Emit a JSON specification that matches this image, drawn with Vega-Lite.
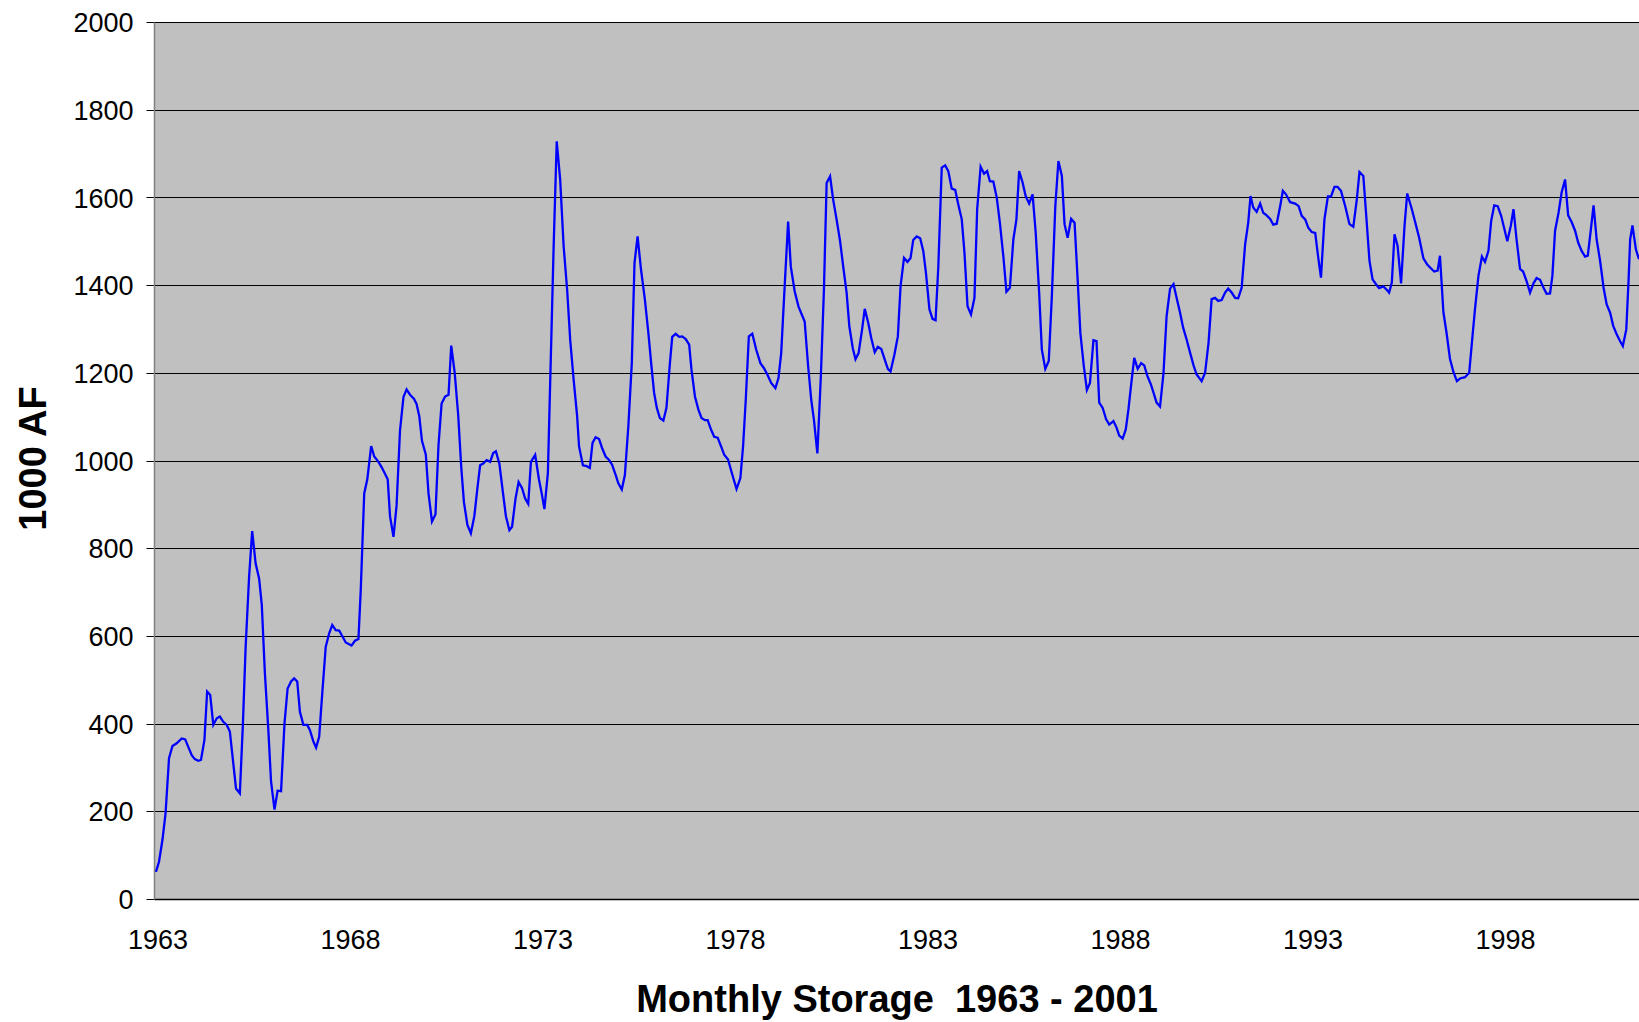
{
  "$schema": "https://vega.github.io/schema/vega-lite/v6.json",
  "width": 1485,
  "height": 877,
  "autosize": {"type": "none"},
  "padding": {"left": 154, "top": 22, "right": 0, "bottom": 123},
  "background": "white",
  "config": {
    "view": {"fill": "#C0C0C0", "stroke": "#808080", "strokeWidth": 1},
    "font": "Liberation Sans"
  },
  "data": {"values": [
    {"year":1962.96,"storage":62},{"year":1963.04,"storage":85},{"year":1963.13,"storage":135},{"year":1963.21,"storage":195},
    {"year":1963.30,"storage":321},{"year":1963.39,"storage":349},{"year":1963.50,"storage":355},{"year":1963.63,"storage":366},
    {"year":1963.72,"storage":364},{"year":1963.80,"storage":347},{"year":1963.89,"storage":328},{"year":1963.97,"storage":319},
    {"year":1964.06,"storage":315},{"year":1964.13,"storage":317},{"year":1964.22,"storage":363},{"year":1964.29,"storage":473},
    {"year":1964.37,"storage":465},{"year":1964.45,"storage":397},{"year":1964.54,"storage":412},{"year":1964.62,"storage":416},
    {"year":1964.71,"storage":404},{"year":1964.80,"storage":397},{"year":1964.88,"storage":382},{"year":1964.97,"storage":309},
    {"year":1965.04,"storage":252},{"year":1965.14,"storage":241},{"year":1965.22,"storage":401},{"year":1965.29,"storage":575},
    {"year":1965.38,"storage":735},{"year":1965.46,"storage":839},{"year":1965.55,"storage":765},{"year":1965.64,"storage":731},
    {"year":1965.71,"storage":670},{"year":1965.79,"storage":515},{"year":1965.88,"storage":385},{"year":1965.95,"storage":268},
    {"year":1966.04,"storage":204},{"year":1966.12,"storage":247},{"year":1966.21,"storage":246},{"year":1966.30,"storage":401},
    {"year":1966.38,"storage":480},{"year":1966.47,"storage":496},{"year":1966.55,"storage":503},{"year":1966.63,"storage":496},
    {"year":1966.70,"storage":427},{"year":1966.79,"storage":397},{"year":1966.89,"storage":397},{"year":1966.96,"storage":385},
    {"year":1967.05,"storage":359},{"year":1967.12,"storage":345},{"year":1967.20,"storage":370},{"year":1967.28,"storage":469},
    {"year":1967.37,"storage":575},{"year":1967.46,"storage":606},{"year":1967.54,"storage":625},{"year":1967.63,"storage":613},
    {"year":1967.72,"storage":612},{"year":1967.81,"storage":598},{"year":1967.89,"storage":585},
    {"year":1968.04,"storage":578},{"year":1968.13,"storage":589},{"year":1968.22,"storage":593},{"year":1968.28,"storage":705},
    {"year":1968.37,"storage":925},{"year":1968.45,"storage":957},{"year":1968.55,"storage":1033},{"year":1968.63,"storage":1009},
    {"year":1968.74,"storage":997},{"year":1968.82,"storage":985},{"year":1968.89,"storage":973},{"year":1968.98,"storage":957},
    {"year":1969.04,"storage":873},{"year":1969.13,"storage":826},{"year":1969.21,"storage":897},{"year":1969.30,"storage":1069},
    {"year":1969.39,"storage":1145},{"year":1969.47,"storage":1162},{"year":1969.56,"storage":1150},{"year":1969.66,"storage":1141},
    {"year":1969.73,"storage":1129},{"year":1969.80,"storage":1101},{"year":1969.87,"storage":1045},{"year":1969.97,"storage":1013},
    {"year":1970.04,"storage":925},{"year":1970.13,"storage":861},{"year":1970.22,"storage":877},{"year":1970.30,"storage":1036},
    {"year":1970.38,"storage":1130},{"year":1970.47,"storage":1146},{"year":1970.56,"storage":1150},{"year":1970.63,"storage":1262},
    {"year":1970.72,"storage":1200},{"year":1970.81,"storage":1105},{"year":1970.89,"storage":985},{"year":1970.96,"storage":905},
    {"year":1971.05,"storage":853},{"year":1971.14,"storage":834},{"year":1971.23,"storage":873},{"year":1971.31,"storage":937},
    {"year":1971.38,"storage":989},{"year":1971.46,"storage":993},{"year":1971.55,"storage":1001},{"year":1971.64,"storage":997},
    {"year":1971.72,"storage":1017},{"year":1971.79,"storage":1021},{"year":1971.88,"storage":993},{"year":1971.97,"storage":929},
    {"year":1972.05,"storage":873},{"year":1972.14,"storage":841},{"year":1972.21,"storage":849},{"year":1972.30,"storage":913},
    {"year":1972.38,"storage":951},{"year":1972.47,"storage":937},{"year":1972.55,"storage":913},{"year":1972.63,"storage":901},
    {"year":1972.70,"storage":997},
    {"year":1972.81,"storage":1013},{"year":1972.91,"storage":956},{"year":1972.98,"storage":925},{"year":1973.05,"storage":889},
    {"year":1973.14,"storage":971},{"year":1973.20,"storage":1177},{"year":1973.29,"storage":1488},{"year":1973.37,"storage":1728},
    {"year":1973.46,"storage":1640},{"year":1973.55,"storage":1488},{"year":1973.64,"storage":1390},{"year":1973.72,"storage":1275},
    {"year":1973.81,"storage":1184},{"year":1973.90,"storage":1101},{"year":1973.95,"storage":1032},{"year":1974.05,"storage":989},
    {"year":1974.15,"storage":987},{"year":1974.23,"storage":983},{"year":1974.30,"storage":1040},{"year":1974.38,"storage":1053},
    {"year":1974.47,"storage":1049},{"year":1974.55,"storage":1028},{"year":1974.64,"storage":1009},{"year":1974.73,"storage":1001},
    {"year":1974.81,"storage":990},{"year":1974.90,"storage":967},{"year":1974.97,"storage":948},{"year":1975.06,"storage":934},
    {"year":1975.14,"storage":967},{"year":1975.23,"storage":1078},{"year":1975.32,"storage":1222},{"year":1975.39,"storage":1450},
    {"year":1975.47,"storage":1511},{"year":1975.56,"storage":1435},{"year":1975.66,"storage":1367},{"year":1975.75,"storage":1291},
    {"year":1975.83,"storage":1215},{"year":1975.90,"storage":1154},{"year":1975.97,"storage":1120},{"year":1976.05,"storage":1097},
    {"year":1976.14,"storage":1091},{"year":1976.22,"storage":1120},{"year":1976.31,"storage":1222},{"year":1976.37,"storage":1282},
    {"year":1976.46,"storage":1289},{"year":1976.55,"storage":1282},{"year":1976.63,"storage":1283},{"year":1976.72,"storage":1277},
    {"year":1976.81,"storage":1264},{"year":1976.87,"storage":1207},{"year":1976.96,"storage":1146},{"year":1977.05,"storage":1116},
    {"year":1977.13,"storage":1097},{"year":1977.22,"storage":1092},{"year":1977.29,"storage":1092},{"year":1977.38,"storage":1070},
    {"year":1977.46,"storage":1054},{"year":1977.55,"storage":1052},{"year":1977.64,"storage":1032},{"year":1977.72,"storage":1013},
    {"year":1977.82,"storage":1002},{"year":1977.92,"storage":971},{"year":1978.04,"storage":935},{"year":1978.14,"storage":960},
    {"year":1978.21,"storage":1032},{"year":1978.28,"storage":1139},{"year":1978.36,"storage":1283},{"year":1978.45,"storage":1289},
    {"year":1978.55,"storage":1253},{"year":1978.66,"storage":1222},{"year":1978.75,"storage":1211},{"year":1978.84,"storage":1196},
    {"year":1978.94,"storage":1177},{"year":1979.05,"storage":1165},{"year":1979.13,"storage":1188},{"year":1979.20,"storage":1245},
    {"year":1979.29,"storage":1397},{"year":1979.38,"storage":1545},{"year":1979.45,"storage":1442},{"year":1979.55,"storage":1386},
    {"year":1979.65,"storage":1351},{"year":1979.81,"storage":1317},{"year":1979.90,"storage":1215},{"year":1979.98,"storage":1139},
    {"year":1980.05,"storage":1093},{"year":1980.14,"storage":1016},{"year":1980.23,"storage":1192},{"year":1980.31,"storage":1389},
    {"year":1980.38,"storage":1633},{"year":1980.47,"storage":1648},{"year":1980.55,"storage":1595},{"year":1980.64,"storage":1549},
    {"year":1980.73,"storage":1500},{"year":1980.81,"storage":1443},{"year":1980.90,"storage":1382},{"year":1980.97,"storage":1306},
    {"year":1981.06,"storage":1256},{"year":1981.13,"storage":1231},{"year":1981.21,"storage":1245},{"year":1981.30,"storage":1298},
    {"year":1981.37,"storage":1346},{"year":1981.46,"storage":1314},{"year":1981.54,"storage":1279},{"year":1981.63,"storage":1247},
    {"year":1981.71,"storage":1259},{"year":1981.80,"storage":1254},{"year":1981.89,"storage":1230},{"year":1981.97,"storage":1209},
    {"year":1982.04,"storage":1203},{"year":1982.14,"storage":1241},{"year":1982.23,"storage":1283},{"year":1982.30,"storage":1397},
    {"year":1982.39,"storage":1462},{"year":1982.48,"storage":1453},{"year":1982.56,"storage":1462},{"year":1982.63,"storage":1503},
    {"year":1982.72,"storage":1511},{"year":1982.81,"storage":1507},
    {"year":1982.89,"storage":1478},{"year":1982.96,"storage":1428},{"year":1983.05,"storage":1345},{"year":1983.13,"storage":1323},
    {"year":1983.21,"storage":1320},{"year":1983.28,"storage":1440},{"year":1983.37,"storage":1668},{"year":1983.46,"storage":1673},
    {"year":1983.54,"storage":1660},{"year":1983.63,"storage":1620},{"year":1983.72,"storage":1617},{"year":1983.80,"storage":1584},
    {"year":1983.89,"storage":1550},{"year":1983.96,"storage":1474},{"year":1984.04,"storage":1352},{"year":1984.13,"storage":1333},
    {"year":1984.22,"storage":1371},{"year":1984.29,"storage":1573},{"year":1984.38,"storage":1670},{"year":1984.47,"storage":1654},
    {"year":1984.55,"storage":1660},{"year":1984.62,"storage":1637},{"year":1984.71,"storage":1636},{"year":1984.80,"storage":1599},
    {"year":1984.88,"storage":1542},{"year":1984.97,"storage":1466},{"year":1985.05,"storage":1385},{"year":1985.14,"storage":1394},
    {"year":1985.23,"storage":1504},{"year":1985.31,"storage":1550},{"year":1985.38,"storage":1660},{"year":1985.47,"storage":1634},
    {"year":1985.55,"storage":1603},{"year":1985.64,"storage":1586},{"year":1985.73,"storage":1607},{"year":1985.81,"storage":1520},
    {"year":1985.90,"storage":1383},{"year":1985.97,"storage":1253},{"year":1986.06,"storage":1209},{"year":1986.15,"storage":1227},
    {"year":1986.23,"storage":1375},{"year":1986.32,"storage":1580},{"year":1986.40,"storage":1683},{"year":1986.49,"storage":1649},
    {"year":1986.56,"storage":1539},{"year":1986.64,"storage":1508},{"year":1986.73,"storage":1551},{"year":1986.82,"storage":1542},
    {"year":1986.90,"storage":1413},{"year":1986.97,"storage":1291},{"year":1987.06,"storage":1215},{"year":1987.14,"storage":1161},
    {"year":1987.22,"storage":1177},{"year":1987.31,"storage":1274},{"year":1987.39,"storage":1272},{"year":1987.46,"storage":1132},
    {"year":1987.55,"storage":1120},{"year":1987.64,"storage":1094},{"year":1987.72,"storage":1082},
    {"year":1987.83,"storage":1090},{"year":1987.91,"storage":1075},{"year":1987.98,"storage":1057},{"year":1988.07,"storage":1050},
    {"year":1988.15,"storage":1071},{"year":1988.22,"storage":1117},{"year":1988.30,"storage":1181},{"year":1988.37,"storage":1234},
    {"year":1988.46,"storage":1209},{"year":1988.55,"storage":1222},{"year":1988.63,"storage":1217},{"year":1988.71,"storage":1193},
    {"year":1988.80,"storage":1174},{"year":1988.87,"storage":1155},{"year":1988.95,"storage":1132},{"year":1989.04,"storage":1123},
    {"year":1989.13,"storage":1200},{"year":1989.21,"storage":1329},{"year":1989.30,"storage":1392},{"year":1989.39,"storage":1402},
    {"year":1989.47,"storage":1371},{"year":1989.56,"storage":1337},{"year":1989.64,"storage":1303},{"year":1989.73,"storage":1276},
    {"year":1989.82,"storage":1246},{"year":1989.91,"storage":1217},{"year":1989.99,"storage":1196},{"year":1990.12,"storage":1181},
    {"year":1990.21,"storage":1200},{"year":1990.30,"storage":1269},{"year":1990.38,"storage":1368},{"year":1990.47,"storage":1371},
    {"year":1990.55,"storage":1364},{"year":1990.64,"storage":1366},{"year":1990.73,"storage":1383},{"year":1990.81,"storage":1392},
    {"year":1990.90,"storage":1383},{"year":1990.99,"storage":1371},{"year":1991.07,"storage":1370},{"year":1991.16,"storage":1394},
    {"year":1991.25,"storage":1493},{"year":1991.33,"storage":1542},{"year":1991.39,"storage":1603},{"year":1991.46,"storage":1577},
    {"year":1991.55,"storage":1567},{"year":1991.64,"storage":1586},{"year":1991.72,"storage":1565},{"year":1991.81,"storage":1559},
    {"year":1991.90,"storage":1551},{"year":1991.98,"storage":1538},{"year":1992.07,"storage":1540},{"year":1992.16,"storage":1580},
    {"year":1992.23,"storage":1615},{"year":1992.31,"storage":1607},{"year":1992.42,"storage":1589},{"year":1992.55,"storage":1586},
    {"year":1992.64,"storage":1580},{"year":1992.72,"storage":1558},
    {"year":1992.81,"storage":1550},{"year":1992.89,"storage":1531},{"year":1992.98,"storage":1521},{"year":1993.07,"storage":1519},
    {"year":1993.15,"storage":1462},{"year":1993.22,"storage":1417},{"year":1993.31,"storage":1550},{"year":1993.40,"storage":1602},
    {"year":1993.48,"storage":1602},{"year":1993.57,"storage":1624},{"year":1993.65,"storage":1624},{"year":1993.74,"storage":1615},
    {"year":1993.85,"storage":1580},{"year":1993.96,"storage":1539},{"year":1994.06,"storage":1533},{"year":1994.15,"storage":1595},
    {"year":1994.22,"storage":1658},{"year":1994.32,"storage":1649},{"year":1994.39,"storage":1565},{"year":1994.48,"storage":1455},
    {"year":1994.56,"storage":1413},{"year":1994.65,"storage":1402},{"year":1994.73,"storage":1393},{"year":1994.84,"storage":1397},
    {"year":1994.92,"storage":1390},{"year":1994.99,"storage":1383},{"year":1995.06,"storage":1406},{"year":1995.13,"storage":1516},
    {"year":1995.21,"storage":1489},{"year":1995.30,"storage":1404},{"year":1995.39,"storage":1535},{"year":1995.46,"storage":1609},
    {"year":1995.58,"storage":1573},{"year":1995.68,"storage":1539},{"year":1995.77,"storage":1508},{"year":1995.88,"storage":1461},
    {"year":1995.98,"storage":1447},{"year":1996.08,"storage":1438},{"year":1996.16,"storage":1431},{"year":1996.25,"storage":1433},
    {"year":1996.31,"storage":1467},{"year":1996.40,"storage":1338},{"year":1996.48,"storage":1292},{"year":1996.57,"storage":1232},
    {"year":1996.66,"storage":1202},{"year":1996.75,"storage":1181},{"year":1996.83,"storage":1187},{"year":1996.96,"storage":1190},
    {"year":1997.07,"storage":1200},{"year":1997.14,"storage":1269},{"year":1997.22,"storage":1345},{"year":1997.31,"storage":1421},
    {"year":1997.40,"storage":1465},{"year":1997.48,"storage":1453},{"year":1997.57,"storage":1478},{"year":1997.64,"storage":1546},
    {"year":1997.72,"storage":1582},{"year":1997.81,"storage":1580},{"year":1997.90,"storage":1558},
    {"year":1998.06,"storage":1500},{"year":1998.15,"storage":1535},{"year":1998.22,"storage":1573},{"year":1998.30,"storage":1504},
    {"year":1998.39,"storage":1437},{"year":1998.47,"storage":1431},{"year":1998.56,"storage":1409},{"year":1998.65,"storage":1383},
    {"year":1998.74,"storage":1404},{"year":1998.82,"storage":1416},{"year":1998.91,"storage":1412},{"year":1999.00,"storage":1394},
    {"year":1999.08,"storage":1380},{"year":1999.17,"storage":1381},{"year":1999.23,"storage":1421},{"year":1999.30,"storage":1524},
    {"year":1999.39,"storage":1565},{"year":1999.47,"storage":1611},{"year":1999.56,"storage":1641},{"year":1999.64,"storage":1559},
    {"year":1999.73,"storage":1544},{"year":1999.82,"storage":1524},{"year":1999.90,"storage":1497},{"year":1999.99,"storage":1478},
    {"year":2000.08,"storage":1465},{"year":2000.15,"storage":1467},{"year":2000.23,"storage":1527},{"year":2000.30,"storage":1582},
    {"year":2000.38,"storage":1504},{"year":2000.47,"storage":1455},{"year":2000.56,"storage":1394},{"year":2000.64,"storage":1356},
    {"year":2000.73,"storage":1337},{"year":2000.81,"storage":1307},{"year":2000.90,"storage":1288},{"year":2000.99,"storage":1272},
    {"year":2001.06,"storage":1261},{"year":2001.15,"storage":1299},{"year":2001.21,"storage":1413},{"year":2001.25,"storage":1504},
    {"year":2001.31,"storage":1536},{"year":2001.40,"storage":1481},{"year":2001.48,"storage":1459}
  ]},
  "mark": {"type": "line", "color": "#0000FF", "strokeWidth": 2.3, "clip": true},
  "encoding": {
    "x": {
      "field": "year", "type": "quantitative",
      "scale": {"domain": [1962.91, 2001.48], "nice": false, "zero": false},
      "axis": {
        "values": [1963, 1968, 1973, 1978, 1983, 1988, 1993, 1998],
        "format": "d", "grid": false, "ticks": false, "tickSize": 0,
        "domainColor": "#000000", "domainWidth": 1.5,
        "labelFontSize": 27, "labelColor": "#000000", "labelFont": "Liberation Sans",
        "labelBaseline": "alphabetic", "labelPadding": 49,
        "labelFlush": false, "labelOverlap": false,
        "title": "Monthly Storage\u00a0 1963 - 2001",
        "titleFont": "Liberation Sans", "titleFontSize": 38, "titleFontWeight": "bold", "titleColor": "#000000",
        "titleBaseline": "alphabetic", "titleY": 112
      }
    },
    "y": {
      "field": "storage", "type": "quantitative",
      "scale": {"domain": [0, 2000], "nice": false},
      "axis": {
        "values": [0, 200, 400, 600, 800, 1000, 1200, 1400, 1600, 1800, 2000],
        "format": "d",
        "grid": true, "gridColor": "#000000", "gridWidth": 1,
        "domainColor": "#808080", "domainWidth": 1.5,
        "tickColor": "#000000", "tickSize": 8,
        "labelFontSize": 27, "labelColor": "#000000", "labelFont": "Liberation Sans",
        "labelBaseline": "alphabetic", "labelOffset": 9.6, "labelPadding": 13,
        "title": "1000 AF",
        "titleFont": "Liberation Sans", "titleFontSize": 38, "titleFontWeight": "bold", "titleColor": "#000000",
        "titleAngle": -90, "titleBaseline": "alphabetic", "titleAlign": "center",
        "titleX": -109, "titleY": 436
      }
    }
  }
}
